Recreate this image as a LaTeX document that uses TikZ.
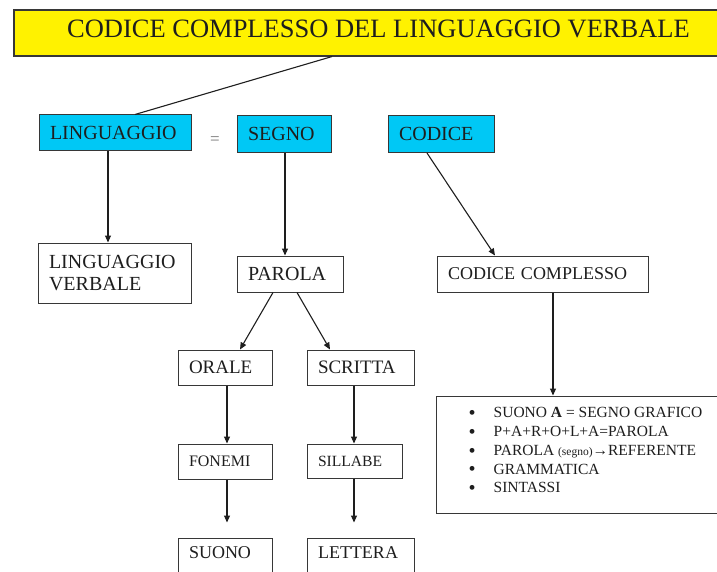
\documentclass[tikz,border=0pt]{standalone}
\usepackage{fontspec}
\setmainfont{Liberation Serif}
\usetikzlibrary{arrows.meta,calc}
\definecolor{cyanc}{RGB}{0,200,245}
\definecolor{ink}{RGB}{30,30,30}
\definecolor{edge}{RGB}{55,55,55}
\newcommand\fz[2]{\fontsize{#1pt}{#2pt}\selectfont}
\newcommand\blt{\makebox[25pt][l]{\smash{\raisebox{-1.6pt}{\scalebox{1.3}{\textbullet}}}}}
\tikzset{
  box/.style={draw=edge, line width=1pt, fill=white, inner xsep=11pt, inner ysep=0pt, align=left, text=ink},
  cyanbox/.style={box, fill=cyanc},
  arr/.style={draw=ink, line width=1.1pt, -{Triangle[length=7pt,width=6pt]}},
  link/.style={draw=ink, line width=1.1pt},
}
\begin{document}
\begin{tikzpicture}[x=1pt,y=-1pt]
\useasboundingbox (0,0) rectangle (717,572);
% title
\node[draw=edge, fill=yellow, line width=1.1pt, minimum width=729pt, minimum height=46pt,
      text height=18pt, text depth=8pt, inner sep=0pt, text=ink, font=\fz{26.5}{30}]
      (title) at (378.5,33) {CODICE COMPLESSO DEL LINGUAGGIO VERBALE};
% top row
\node[cyanbox, text width=130pt, minimum height=36pt, font=\fz{20}{22}] (ling) at (115,133) {LINGUAGGIO};
\node[text=black!55, inner sep=0pt, font=\fz{17}{20}] (eq) at (215,141) {=};
\node[cyanbox, text width=72pt, minimum height=37pt, font=\fz{20}{22}] (segno) at (284,134) {SEGNO};
\node[cyanbox, text width=84pt, minimum height=37pt, font=\fz{20}{22}] (codice) at (441,134) {CODICE};
% second row
\node[box, text width=131pt, minimum height=60pt, font=\fz{20}{22}] (lv) at (114.5,273) {LINGUAGGIO\\VERBALE};
\node[box, text width=84pt, minimum height=36pt, font=\fz{20}{22}] (parola) at (290,274) {PAROLA};
\node[box, text width=189pt, minimum height=36pt, font=\fz{18}{20}] (cc) at (542.5,274) {CODICE COMPLESSO};
% third row
\node[box, text width=72pt, minimum height=35pt, font=\fz{19}{21}] (orale) at (225,367.5) {ORALE};
\node[box, text width=85pt, minimum height=35pt, font=\fz{19}{21}] (scritta) at (360.5,367.5) {SCRITTA};
% fourth row
\node[box, text width=72pt, minimum height=35pt, font=\fz{16}{18}] (fonemi) at (225,461.5) {FONEMI};
\node[box, text width=73pt, minimum height=34pt, font=\fz{15.6}{18}] (sillabe) at (354.5,461) {SILLABE};
% bottom row
\node[box, text width=72pt, minimum height=38pt, font=\fz{18}{20}] (suono) at (225,557) {\raisebox{9pt}{SUONO}};
\node[box, text width=85pt, minimum height=38pt, font=\fz{18}{20}] (lettera) at (360.5,557) {\raisebox{9pt}{LETTERA}};
% list box
\node[box, minimum width=289pt, minimum height=117pt] (list) at (580.5,454.5) {};
\node[anchor=north west, inner sep=0pt, align=left, text=ink, font=\fz{15.5}{18.75}]
  (items) at ([xshift=33pt,yshift=-12pt]list.north west)
  {\blt SUONO \textbf{A} = SEGNO GRAFICO\\
   \blt P+A+R+O+L+A=PAROLA\\
   \blt PAROLA {\fz{11.5}{12}(segno)}→REFERENTE\\
   \blt GRAMMATICA\\
   \blt SINTASSI};
% connectors
\draw[link] ([xshift=-46.5pt]title.south) -- ([xshift=20pt]ling.north);
\draw[arr] ([xshift=-7pt]ling.south) -- ([xshift=-6.5pt]lv.north);
\draw[arr] ([xshift=1pt]segno.south) -- ([xshift=-5pt]parola.north);
\draw[arr] ([xshift=-14pt]codice.south) -- ([xshift=-47.5pt]cc.north);
\draw[arr] ([xshift=-17pt]parola.south) -- ([xshift=15pt]orale.north);
\draw[arr] ([xshift=7pt]parola.south) -- ([xshift=-30.5pt]scritta.north);
\draw[arr] ([xshift=2pt]orale.south) -- ([xshift=2pt]fonemi.north);
\draw[arr, shorten >=15pt] ([xshift=2pt]fonemi.south) -- ([xshift=2pt]suono.north);
\draw[arr] ([xshift=-6.5pt]scritta.south) -- ([xshift=-0.5pt]sillabe.north);
\draw[arr, shorten >=15pt] ([xshift=-0.5pt]sillabe.south) -- ([xshift=-6.5pt]lettera.north);
\draw[arr] ([xshift=10.5pt]cc.south) -- ([xshift=-27.5pt]list.north);
\end{tikzpicture}
\end{document}
